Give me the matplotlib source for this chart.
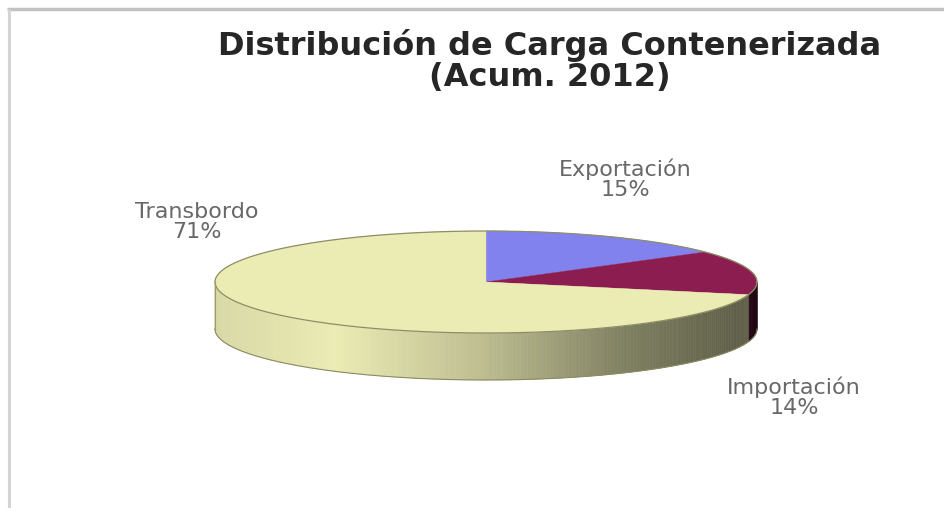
import numpy as np
import matplotlib.pyplot as plt
from matplotlib.patches import Polygon
from matplotlib.colors import to_rgb

# data
labels = ["Exportación", "Importación", "Transbordo"]
values = [15, 14, 71]
title = "Distribución de Carga Contenerizada\n(Acum. 2012)"

colors = ["#8282ee", "#8c1d50", "#ebebb4"]
label_xy = [(625, 179), (794, 397), (197, 222)]

fig = plt.figure(figsize=(9.45, 5.08), dpi=100)
ax = fig.add_axes([0, 0, 1, 1])
ax.set_xlim(0, 945)
ax.set_ylim(508, 0)
ax.axis("off")

# 3d pie geometry (pixel units)
cx, cy, rx, ry, depth = 486, 282, 271, 51, 47


def ell(theta_deg, dy=0.0):
    t = np.radians(theta_deg)
    return np.column_stack([cx + rx * np.cos(t), cy - ry * np.sin(t) + dy])


def shade(theta_deg):
    c = np.cos(np.radians(theta_deg))
    return np.interp(c, [-1, -0.55, 0.0, 0.5, 1.0], [0.92, 1.0, 0.8, 0.55, 0.38])


fracs = np.array(values) / sum(values)
bounds = 90 - 360 * np.concatenate([[0], np.cumsum(fracs)])

# side walls (front half only, -180..0 deg)
for i, col in enumerate(colors):
    hi, lo = bounds[i], bounds[i + 1]
    base = np.array(to_rgb(col))
    for k in (-1, 0, 1):
        a, b = max(lo + 360 * k, -180), min(hi + 360 * k, 0)
        if b <= a:
            continue
        edges = np.linspace(a, b, max(2, int((b - a) / 0.8) + 1))
        for t0, t1 in zip(edges[:-1], edges[1:]):
            arc = np.linspace(t0, t1, 3)
            pts = np.vstack([ell(arc), ell(arc[::-1], depth)])
            c = np.clip(base * shade((t0 + t1) / 2), 0, 1)
            if i != len(colors) - 1:
                c = c * 0.6
            ax.add_patch(Polygon(pts, closed=True, facecolor=c, edgecolor=c,
                                 lw=0.4, zorder=2))

# top faces
for i, col in enumerate(colors):
    arc = np.linspace(bounds[i], bounds[i + 1], 200)
    pts = np.vstack([[cx, cy], ell(arc)])
    ax.add_patch(Polygon(pts, closed=True, facecolor=col, edgecolor=col,
                         lw=0.3, zorder=3))

# outlines
full = ell(np.linspace(0, 360, 400))
ax.plot(full[:, 0], full[:, 1], color="#8e8e66", lw=0.9, zorder=4)
front = ell(np.linspace(-180, 0, 200), depth)
ax.plot(front[:, 0], front[:, 1], color="#8a8a64", lw=0.8, zorder=4)
ax.plot([cx - rx, cx - rx], [cy, cy + depth], color="#9a9a70", lw=0.8, zorder=4)

# labels
for lab, v, (x, y) in zip(labels, values, label_xy):
    ax.text(x, y, f"{lab}\n{v}%", ha="center", va="center", fontsize=16,
            color="#686868", linespacing=1.0)

ax.text(550, 61, title, ha="center", va="center", fontsize=23,
        fontweight="bold", color="#262626", linespacing=1.03)

# frame remnants
ax.plot([7, 945], [9, 9], color="#c2c2c2", lw=2.5, solid_capstyle="butt")
ax.plot([9, 9], [9, 508], color="#d4d4d4", lw=2.2, solid_capstyle="butt")

fig.savefig("out.png", dpi=100)
